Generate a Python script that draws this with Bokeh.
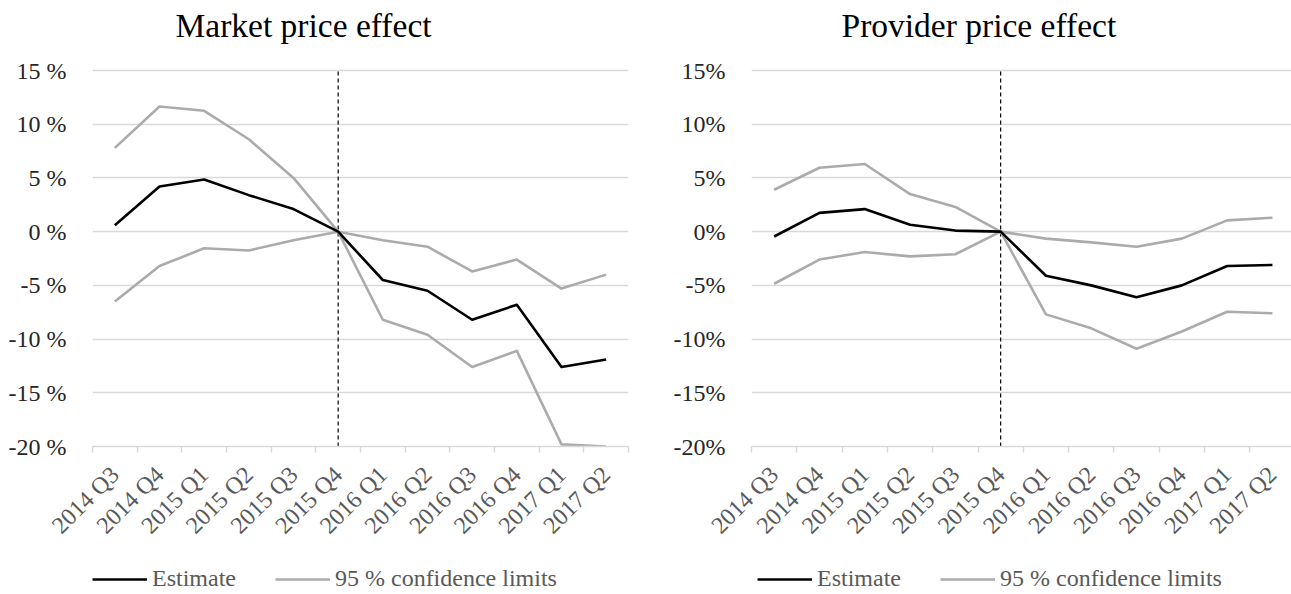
import numpy as np
from bokeh.plotting import figure
from bokeh.layouts import row, column
from bokeh.models import (FixedTicker, PrintfTickFormatter, CustomJSTickFormatter,
                          Legend, LegendItem, Range1d)
from bokeh.embed import file_html
from bokeh.resources import INLINE

# Quarters on the horizontal axis; 2015 Q4 is the reference period (effect = 0)
quarters = ["2014 Q3", "2014 Q4", "2015 Q1", "2015 Q2", "2015 Q3", "2015 Q4",
            "2016 Q1", "2016 Q2", "2016 Q3", "2016 Q4", "2017 Q1", "2017 Q2"]
base_quarter = "2015 Q4"

# Market price effect, per cent
market_est = [0.6, 4.2, 4.85, 3.4, 2.1, 0.0, -4.5, -5.5, -8.2, -6.8, -12.6, -11.9]
market_upper = [7.8, 11.65, 11.25, 8.6, 5.0, 0.0, -0.8, -1.4, -3.7, -2.6, -5.3, -4.0]
market_lower = [-6.5, -3.2, -1.55, -1.75, -0.8, 0.0, -8.2, -9.6, -12.6, -11.1, -19.8, -20.0]

# Provider price effect, per cent
provider_est = [-0.45, 1.75, 2.1, 0.65, 0.1, 0.0, -4.1, -5.0, -6.1, -5.0, -3.2, -3.1]
provider_upper = [3.9, 5.95, 6.3, 3.5, 2.3, 0.0, -0.65, -1.0, -1.4, -0.65, 1.05, 1.3]
provider_lower = [-4.85, -2.6, -1.9, -2.3, -2.1, 0.0, -7.7, -9.0, -10.9, -9.3, -7.45, -7.6]

y_ticks = [-20, -15, -10, -5, 0, 5, 10, 15]
legend_labels = ["Estimate", "95 % confidence limits"]

SERIF = "Liberation Serif"
GRID = "#d9d9d9"
CI_GRAY = "#ababab"
LABEL_GRAY = "#595959"
LINE_W = 2.6
CHART_H = 560
LEGEND_H = 34
Y_HEADROOM = 2.33   # extra room above the top gridline, in per cent


def make_chart(title, est, upper, lower, pct_format, width, border_left,
               border_right, x_end, title_offset):
    x = np.arange(len(quarters)) + 0.5
    p = figure(width=width, height=CHART_H, output_backend="svg", toolbar_location=None,
               x_range=Range1d(0, x_end),
               y_range=Range1d(min(y_ticks), max(y_ticks) + Y_HEADROOM),
               min_border_left=border_left, min_border_right=border_right,
               min_border_top=45, min_border_bottom=114)
    p.outline_line_color = None
    p.background_fill_color = "white"
    p.border_fill_color = "white"

    p.title.text = title
    p.title.text_font = SERIF
    p.title.text_font_size = "33.5px"
    p.title.text_font_style = "normal"
    p.title.text_color = "black"
    p.title.align = "left"
    p.title.offset = title_offset
    p.title.standoff = 4

    # horizontal axis: labels at category centres, tick marks on the boundaries
    xa = p.xaxis[0]
    xa.ticker = FixedTicker(ticks=list(x), minor_ticks=list(range(len(quarters) + 1)))
    xa.formatter = CustomJSTickFormatter(args=dict(labels=quarters),
                                         code="return labels[Math.floor(tick)]")
    xa.major_label_orientation = np.pi / 4
    xa.major_label_text_font = SERIF
    xa.major_label_text_font_size = "24px"
    xa.major_label_text_color = LABEL_GRAY
    xa.major_label_standoff = 18
    xa.major_tick_line_color = None
    xa.minor_tick_line_color = GRID
    xa.minor_tick_line_width = 1.5
    xa.minor_tick_in = 0
    xa.minor_tick_out = 6
    xa.axis_line_color = GRID
    xa.axis_line_width = 1.5

    ya = p.yaxis[0]
    ya.ticker = FixedTicker(ticks=y_ticks)
    ya.formatter = PrintfTickFormatter(format=pct_format)
    ya.major_label_text_font = SERIF
    ya.major_label_text_font_size = "24px"
    ya.major_label_text_color = "#262626"
    ya.major_label_standoff = 20
    ya.axis_line_color = None
    ya.major_tick_line_color = None
    ya.minor_tick_line_color = None

    p.xgrid.grid_line_color = None
    p.ygrid.grid_line_color = GRID
    p.ygrid.grid_line_width = 1.5

    # dashed marker at the reference quarter, spanning the gridded range
    base_x = quarters.index(base_quarter) + 0.5
    p.segment(x0=[base_x], y0=[min(y_ticks)], x1=[base_x], y1=[max(y_ticks)],
              line_color="black", line_width=1.2, line_dash="4 3")

    p.line(x, upper, line_color=CI_GRAY, line_width=LINE_W, line_join="round")
    p.line(x, lower, line_color=CI_GRAY, line_width=LINE_W, line_join="round")
    p.line(x, est, line_color="black", line_width=LINE_W, line_join="round")
    return p


def make_legend(width, left_offset):
    # strip under each chart holding its legend (frame aligns with the chart above)
    lg = figure(width=width, height=LEGEND_H, output_backend="svg", toolbar_location=None,
                x_range=Range1d(0, 1), y_range=Range1d(0, 1),
                x_axis_type=None, y_axis_type=None,
                min_border_left=0, min_border_right=0,
                min_border_top=0, min_border_bottom=0)
    lg.outline_line_color = None
    lg.grid.visible = False
    # swatch renderers carry no drawable point; they only feed the legend
    r_est = lg.line([np.nan], [np.nan], line_color="black", line_width=LINE_W)
    r_ci = lg.line([np.nan], [np.nan], line_color=CI_GRAY, line_width=LINE_W)
    legend = Legend(items=[LegendItem(label=legend_labels[0], renderers=[r_est]),
                           LegendItem(label=legend_labels[1], renderers=[r_ci])],
                    orientation="horizontal", location=(left_offset, 2),
                    label_text_font=SERIF, label_text_font_size="24px",
                    label_text_color=LABEL_GRAY, glyph_width=55, glyph_height=20,
                    label_standoff=5, spacing=39, padding=0, margin=0,
                    background_fill_alpha=0, border_line_alpha=0)
    lg.add_layout(legend)
    return lg


left = make_chart("Market price effect", market_est, market_upper, market_lower,
                  "%d %%", 645, 92, 17, 12, 83)
right = make_chart("Provider price effect", provider_est, provider_upper, provider_lower,
                   "%d%%", 646, 106, 0, 540 / 45.3, 90)

layout = row(column(left, make_legend(645, 0), spacing=0),
             column(right, make_legend(646, 6), spacing=0), spacing=0)
open("out.html", "w").write(file_html(layout, INLINE))
